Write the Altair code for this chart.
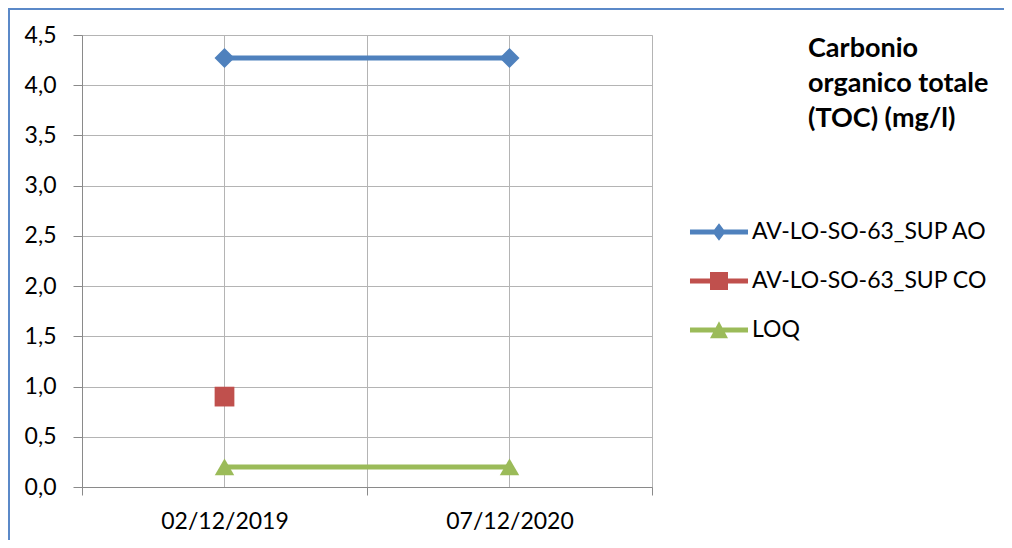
import altair as alt
import pandas as pd

dates = ["02/12/2019", "07/12/2020"]
series = ["AV-LO-SO-63_SUP AO", "AV-LO-SO-63_SUP CO", "LOQ"]
ao_values = [4.27, 4.27]
co_values = [0.9, None]
loq_values = [0.2, 0.2]
colors = ["#4F81BD", "#C0504D", "#9BBB59"]
y_ticks = [0, 0.5, 1.0, 1.5, 2.0, 2.5, 3.0, 3.5, 4.0, 4.5]
title_lines = ["Carbonio", "organico totale", "(TOC) (mg/l)"]

rows = []
for s, vals in zip(series, [ao_values, co_values, loq_values]):
    for d, v in zip(dates, vals):
        if v is not None:
            rows.append({"date": d, "series": s, "value": v})
df = pd.DataFrame(rows)
df_dates = pd.DataFrame({"date": dates})
df_title = pd.DataFrame({"t": [title_lines]})

FONT = "Lato"
GRID = "#B4B4B4"
AXIS = "#8A8A8A"

xscale = alt.Scale(type="band", domain=dates, paddingInner=0, paddingOuter=0)
yscale = alt.Scale(domain=[0, 4.5], nice=False)

x_enc = alt.X("date:N", scale=xscale, sort=dates,
              axis=alt.Axis(title=None, tickBand="extent", grid=True, gridColor=GRID,
                            domainColor=AXIS, tickColor=AXIS, tickSize=8, labelAngle=0,
                            labelFont=FONT, labelFontSize=23, labelColor="black",
                            labelPadding=15))
y_enc = alt.Y("value:Q", scale=yscale,
              axis=alt.Axis(title=None, values=y_ticks, grid=True, gridColor=GRID,
                            domainColor=AXIS, tickColor=AXIS, tickSize=9,
                            labelExpr="replace(format(datum.value, '.1f'), '.', ',')",
                            labelFont=FONT, labelFontSize=23, labelColor="black",
                            labelPadding=17))

center_grid = alt.Chart(df_dates).mark_rule(color=GRID, strokeWidth=1).encode(x=x_enc)

lines = alt.Chart(df).mark_line(strokeWidth=5).encode(
    x=x_enc, y=y_enc,
    color=alt.Color("series:N", scale=alt.Scale(domain=series, range=colors), legend=None),
    detail="series:N",
)

points = alt.Chart(df).mark_point(filled=True, opacity=1).encode(
    x=x_enc, y=y_enc,
    color=alt.Color("series:N", scale=alt.Scale(domain=series, range=colors), legend=None),
    shape=alt.Shape("series:N", scale=alt.Scale(domain=series, range=["diamond", "square", "triangle-up"]), legend=None),
    size=alt.Size("series:N", scale=alt.Scale(domain=series, range=[400, 380, 480]), legend=None),
)

legend_paths = [
    "M-2.417,-0.21H2.417V0.21H-2.417Z M0,-0.72L0.55,0L0,0.72L-0.55,0Z",
    "M-2.417,-0.21H2.417V0.21H-2.417Z M-0.75,-0.75H0.75V0.75H-0.75Z",
    "M-2.417,-0.21H2.417V0.21H-2.417Z M0,-0.72L0.75,0.68H-0.75Z",
]
leg = dict(orient="none", legendX=625, legendY=185, title=None, labelFont=FONT,
           labelFontSize=23, labelColor="black", labelLimit=0, symbolSize=576,
           symbolStrokeWidth=0, labelOffset=21, rowPadding=25, padding=0, symbolOpacity=1)

legend_layer = alt.Chart(df).transform_filter("false").mark_point(filled=True, opacity=1, size=576).encode(
    color=alt.Color("series:N", scale=alt.Scale(domain=series, range=colors), legend=alt.Legend(**leg)),
    shape=alt.Shape("series:N", scale=alt.Scale(domain=series, range=legend_paths), legend=alt.Legend(**leg)),
)

title_text = alt.Chart(df_title).mark_text(
    align="left", baseline="alphabetic", font=FONT, fontSize=27, fontWeight="bold",
    lineHeight=35, color="black"
).encode(text="t", x=alt.value(726), y=alt.value(22))

border_top = alt.Chart(df_dates).mark_rule(color="#5B89C8", strokeWidth=2).encode(
    x=alt.value(-74), x2=alt.value(922), y=alt.value(-26))
border_left = alt.Chart(df_dates).mark_rule(color="#5B89C8", strokeWidth=2).encode(
    x=alt.value(-73), y=alt.value(-27), y2=alt.value(513))

chart = alt.layer(center_grid, lines, points, legend_layer, title_text, border_top, border_left).resolve_scale(
    shape="independent", size="independent", color="independent"
).properties(
    width=570, height=452,
    autosize=alt.AutoSizeParams(type="none"),
    padding={"left": 74, "top": 27, "right": 352, "bottom": 53},
).configure_view(stroke=GRID).configure(background="white")

chart.save("out.html", embed_options={"renderer": "svg", "actions": False})
